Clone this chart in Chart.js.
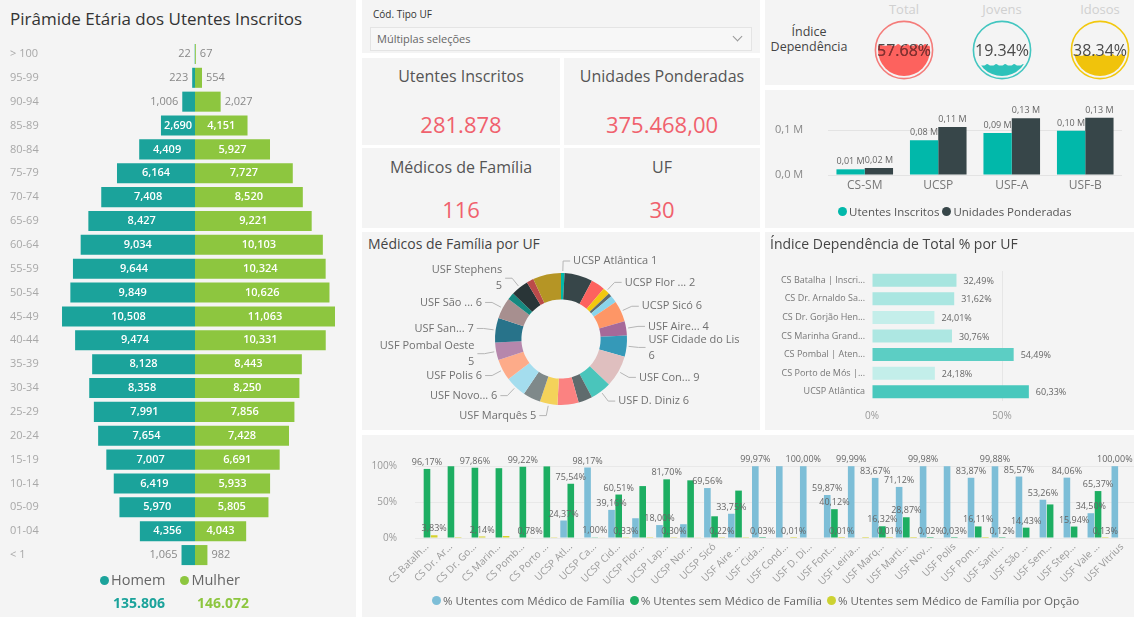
<!DOCTYPE html>
<html lang="pt">
<head>
<meta charset="utf-8">
<title>Utentes Inscritos</title>
<script src="https://cdn.jsdelivr.net/npm/chart.js@4.4.1/dist/chart.umd.min.js"></script>
<style>
html,body{margin:0;padding:0}
body{width:1134px;height:617px;overflow:hidden;background:#fff;position:relative;font-family:'Open Sans',sans-serif;color:#444}
.panel{position:absolute;background:#f4f4f4;overflow:hidden}
.panel canvas{position:absolute;left:0;top:0}
.t{position:absolute;white-space:nowrap;line-height:1}
.cap{position:absolute;left:0;right:0;text-align:center;font-size:16px;color:#555;line-height:1}
.val{position:absolute;left:0;right:0;text-align:center;font-size:22px;color:#F0616D;line-height:1}
.dot{display:inline-block;width:9px;height:9px;border-radius:50%;margin-right:2px}
.leg{position:absolute;white-space:nowrap;line-height:1;display:flex;align-items:center}
.leg span.item{display:flex;align-items:center;margin-right:5px}
</style>
</head>
<body>

<!-- age pyramid -->
<div class="panel" style="left:0;top:0;width:356px;height:617px">
  <div class="t" style="left:10px;top:10px;font-size:17px;color:#333">Pirâmide Etária dos Utentes Inscritos</div>
  <canvas id="pyramid" width="356" height="617"></canvas>
  <div class="leg" style="left:100px;top:573px;font-size:14.5px;color:#666">
    <span class="item"><span class="dot" style="background:#1BA39B"></span>Homem</span>
    <span class="item" style="margin-left:10px"><span class="dot" style="background:#8DC63F"></span>Mulher</span>
  </div>
  <div class="t" id="totHomem" style="left:113px;top:596px;font-size:14px;font-weight:700;color:#1BA39B"></div>
  <div class="t" id="totMulher" style="left:197px;top:596px;font-size:14px;font-weight:700;color:#8DC63F"></div>
</div>

<!-- slicer -->
<div class="panel" style="left:362px;top:0;width:398px;height:53px">
  <div class="t" style="left:11px;top:9px;font-size:10px;color:#333">Cód. Tipo UF</div>
  <div style="position:absolute;left:8px;top:27px;width:380px;height:22px;border:1px solid #e4e4e4;background:#f7f7f7">
    <div class="t" style="left:6px;top:5px;font-size:11px;color:#666">Múltiplas seleções</div>
    <div style="position:absolute;right:10px;top:5px;width:6px;height:6px;border-right:1px solid #999;border-bottom:1px solid #999;transform:rotate(45deg)"></div>
  </div>
</div>

<!-- KPI cards -->
<div class="panel" style="left:362px;top:58px;width:198px;height:87px">
  <div class="cap" style="top:10px">Utentes Inscritos</div>
  <div class="val" id="kpiUtentes" style="top:55px"></div>
</div>
<div class="panel" style="left:564px;top:58px;width:196px;height:87px">
  <div class="cap" style="top:10px">Unidades Ponderadas</div>
  <div class="val" id="kpiPonderadas" style="top:55px"></div>
</div>
<div class="panel" style="left:362px;top:148px;width:198px;height:80px">
  <div class="cap" style="top:11px">Médicos de Família</div>
  <div class="val" id="kpiMedicos" style="top:50px"></div>
</div>
<div class="panel" style="left:564px;top:148px;width:196px;height:80px">
  <div class="cap" style="top:11px">UF</div>
  <div class="val" id="kpiUF" style="top:50px"></div>
</div>

<!-- dependency gauges -->
<div class="panel" id="gaugePanel" style="left:765px;top:0;width:369px;height:85px">
  <div class="t" style="left:0;width:88px;top:24px;text-align:center;font-size:12.5px;line-height:15px;color:#444;white-space:normal">Índice<br>Dependência</div>
</div>

<!-- users by unit type -->
<div class="panel" style="left:765px;top:90px;width:369px;height:138px">
  <canvas id="byType" width="369" height="138"></canvas>
  <div class="leg" style="left:73px;top:116px;font-size:11.5px;color:#555">
    <span class="item" style="margin-right:3px"><span class="dot" style="background:#01B8AA"></span>Utentes Inscritos</span>
    <span class="item"><span class="dot" style="background:#374649"></span>Unidades Ponderadas</span>
  </div>
</div>

<!-- doctors per unit -->
<div class="panel" style="left:362px;top:232px;width:398px;height:198px">
  <div class="t" style="left:6px;top:5px;font-size:14px;color:#444">Médicos de Família por UF</div>
  <canvas id="doctors" width="398" height="198"></canvas>
</div>

<!-- dependency index per unit -->
<div class="panel" style="left:765px;top:232px;width:369px;height:198px">
  <div class="t" style="left:5px;top:5px;font-size:14px;color:#444">Índice Dependência de Total % por UF</div>
  <canvas id="depByUnit" width="369" height="198"></canvas>
</div>

<!-- coverage per unit -->
<div class="panel" style="left:362px;top:435px;width:772px;height:182px">
  <canvas id="coverage" width="772" height="182"></canvas>
  <div class="leg" style="left:70px;top:160px;font-size:11.6px;color:#666">
    <span class="item"><span class="dot" style="background:#7DBED7"></span>% Utentes com Médico de Família</span>
    <span class="item"><span class="dot" style="background:#1DAE62"></span>% Utentes sem Médico de Família</span>
    <span class="item"><span class="dot" style="background:#CDD232"></span>% Utentes sem Médico de Família por Opção</span>
  </div>
</div>

<script>
// ---------- data ----------
const ageGroups = ['> 100','95-99','90-94','85-89','80-84','75-79','70-74','65-69','60-64','55-59','50-54',
                   '45-49','40-44','35-39','30-34','25-29','20-24','15-19','10-14','05-09','01-04','< 1'];
const homem  = [22,223,1006,2690,4409,6164,7408,8427,9034,9644,9849,10508,9474,8128,8358,7991,7654,7007,6419,5970,4356,1065];
const mulher = [67,554,2027,4151,5927,7727,8520,9221,10103,10324,10626,11063,10331,8443,8250,7856,7428,6691,5933,5805,4043,982];

const unidadesPonderadas = 375468;

const dependencyNames  = ['Total','Jovens','Idosos'];
const dependencyValues = [57.68, 19.34, 38.34];

const ufTypes          = ['CS-SM','UCSP','USF-A','USF-B'];
const utentesByType    = [0.0126, 0.0775, 0.0935, 0.0983];   // milhões
const ponderadasByType = [0.0155, 0.1065, 0.1262, 0.1273];   // milhões
const typeTicks        = [0, 0.1];

const doctorUnits  = ['UCSP Atlântica','UCSP Ca...','UCSP Cid...','UCSP Flor ...','UCSP Lap...','UCSP Nor...','UCSP Sicó',
                      'USF Aire...','USF Cidade do Lis','USF Con...','USF D. Diniz','USF Font...','USF Leiria...','USF Marquês',
                      'USF Marti...','USF Novo...','USF Polis','USF Pombal Oeste','USF San...','USF São ...','USF Sem...',
                      'USF Stephens','USF Vale ...','USF Vitrius'];
const doctorCounts = [1,8,4,2,1,2,6,4,6,9,6,4,6,5,5,6,6,5,7,6,2,5,2,8];
const doctorUnlabelled = [1,2,4,5,11,12,14,20,22,23];
const doctorWrapped    = [8,17,21];

const depUnits = ['CS Batalha | Inscri...','CS Dr. Arnaldo Sa...','CS Dr. Gorjão Hen...','CS Marinha Grand...',
                  'CS Pombal | Aten...','CS Porto de Mós |...','UCSP Atlântica'];
const depTotal = [32.49, 31.62, 24.01, 30.76, 54.49, 24.18, 60.33];
const depTicks = [0, 50];

const ufNames = ['CS Batalh...','CS Dr. Ar...','CS Dr. Go...','CS Marin...','CS Pomb...','CS Porto ...','UCSP Atl...',
                 'UCSP Ca...','UCSP Cid...','UCSP Flor...','UCSP Lap...','UCSP Nor...','UCSP Sicó','USF Aire ...',
                 'USF Cida...','USF Cond...','USF D. Di...','USF Font...','USF Leiria...','USF Marq...','USF Marti...',
                 'USF Nov...','USF Polis','USF Pom...','USF Santi...','USF São ...','USF Sem...','USF Step...',
                 'USF Vale ...','USF Vitrius'];
const pctCom = [null,null,null,null,null,null,24.37,98.17,39.16,27.50,18.00,19.20,69.56,33.75,99.97,99.99,100.00,
                59.87,99.99,83.67,71.12,99.98,99.97,83.87,99.88,85.57,53.26,84.06,34.50,100.00];
const pctSem = [96.17,99.90,97.86,97.20,99.22,99.70,75.54,1.00,60.51,72.30,81.70,80.30,30.22,66.00,0.03,null,null,
                40.12,null,16.32,28.87,0.02,0.03,16.11,0.12,14.43,46.74,15.94,65.37,null];
const pctOpc = [3.83,0.10,2.14,2.80,0.78,0.30,null,0.83,0.33,0.20,0.30,0.50,0.22,0.25,null,0.01,null,
                0.01,0.01,0.01,0.01,null,null,0.02,null,null,null,null,0.13,null];
const pctTicks = [0, 50, 100];
const comLabelled = [6,7,8,10,12,13,14,16,17,18,19,20,21,23,24,25,26,27,28,29];
const semLabelled = [0,2,4,6,7,8,10,14,17,19,20,21,22,23,24,25,27,28];
const opcLabelled = [0,2,4,8,10,12,15,17,19,28];

// ---------- colours ----------
const HOMEM = '#1BA39B', MULHER = '#8DC63F';
const palette = ['#01B8AA','#374649','#FD625E','#F2C80F','#5F6B6D','#8AD4EB','#FE9666','#A66999','#3599B8','#DFBFBF',
                 '#4AC5BB','#5F6B6D','#FB8281','#F4D25A','#7F898A','#A4DDEE','#FDAB89','#B687AC','#28738A','#A78F8F',
                 '#168980','#293537','#BB4A4A','#B59525'];
const gaugeStyle = [
  {fill:'#FD625E', ring:'#F47C7A', ink:'#8E2B2B'},
  {fill:'#2EC2BA', ring:'#43C6C0', ink:'#0C5D58'},
  {fill:'#F0C30C', ring:'#F2C80F', ink:'#6A5500'}
];
const FONT = "'Open Sans', sans-serif";

Chart.defaults.font.family = FONT;
Chart.defaults.animation = false;
Chart.defaults.responsive = false;
Chart.defaults.events = [];
Chart.defaults.plugins.legend.display = false;
Chart.defaults.plugins.tooltip.enabled = false;

const sum = a => a.reduce((s, v) => s + (v || 0), 0);
const fmtPt = v => v.toLocaleString('de-DE');
const fmtPct = v => v.toFixed(2).replace('.', ',') + '%';
const fixedTicks = list => s => { s.ticks = list.map(v => ({value: v})); };

// ---------- KPI cards ----------
const totalHomem = sum(homem), totalMulher = sum(mulher);
document.getElementById('totHomem').textContent = fmtPt(totalHomem);
document.getElementById('totMulher').textContent = fmtPt(totalMulher);
document.getElementById('kpiUtentes').textContent = fmtPt(totalHomem + totalMulher);
document.getElementById('kpiPonderadas').textContent =
  unidadesPonderadas.toLocaleString('de-DE', {minimumFractionDigits:2, maximumFractionDigits:2});
document.getElementById('kpiMedicos').textContent = sum(doctorCounts);
document.getElementById('kpiUF').textContent = ufNames.length;

// ---------- age pyramid ----------
const pyramidLabels = {
  id: 'pyramidLabels',
  afterDatasetsDraw(chart) {
    const ctx = chart.ctx;
    ctx.save();
    ctx.textBaseline = 'middle';
    chart.data.datasets.forEach((ds, di) => {
      chart.getDatasetMeta(di).data.forEach((bar, i) => {
        const txt = Math.abs(ds.data[i]).toLocaleString('en-US');
        const w = Math.abs(bar.x - bar.base);
        ctx.font = `600 11px ${FONT}`;
        const tw = ctx.measureText(txt).width;
        if (tw + 4 <= w) {
          ctx.fillStyle = '#fff';
          ctx.textAlign = 'center';
          ctx.fillText(txt, (bar.x + bar.base) / 2, bar.y);
        } else {
          ctx.font = `11px ${FONT}`;
          ctx.fillStyle = '#888';
          const left = bar.x < bar.base;
          ctx.textAlign = left ? 'right' : 'left';
          ctx.fillText(txt, bar.x + (left ? -4 : 4), bar.y);
        }
      });
    });
    ctx.restore();
  }
};

new Chart(document.getElementById('pyramid'), {
  type: 'bar',
  data: {
    labels: ageGroups,
    datasets: [
      {label: 'Homem', data: homem.map(v => -v), backgroundColor: HOMEM},
      {label: 'Mulher', data: mulher, backgroundColor: MULHER}
    ]
  },
  options: {
    indexAxis: 'y',
    layout: {padding: {left: 10, right: 18, top: 42, bottom: 50}},
    datasets: {bar: {barPercentage: 0.84, categoryPercentage: 1}},
    scales: {
      x: {display: false, stacked: true, min: -11300, max: 11300},
      y: {stacked: true, grid: {display: false, drawTicks: false}, border: {display: false},
          ticks: {crossAlign: 'far', color: '#a8a8a8', font: {size: 11}, padding: 0},
          afterFit(s) { s.width = 42; }}
    }
  },
  plugins: [pyramidLabels]
});

// ---------- liquid gauges ----------
const liquid = {
  id: 'liquid',
  beforeDatasetsDraw(chart) {
    const a = chart.chartArea, ctx = chart.ctx;
    ctx.save();
    ctx.beginPath();
    ctx.arc((a.left + a.right) / 2, (a.top + a.bottom) / 2, (a.right - a.left) / 2, 0, Math.PI * 2);
    ctx.clip();
  },
  afterDatasetsDraw(chart) {
    const a = chart.chartArea, ctx = chart.ctx;
    const st = chart.options.plugins.liquid;
    const bar = chart.getDatasetMeta(0).data[0];
    const cx = (a.left + a.right) / 2, cy = (a.top + a.bottom) / 2, r = (a.right - a.left) / 2;
    // wave crest on top of the liquid
    ctx.beginPath();
    ctx.moveTo(a.left, bar.y + 1);
    for (let x = a.left; x <= a.right; x += 1) {
      ctx.lineTo(x, bar.y - 1.6 * Math.sin((x - a.left) / 9 * Math.PI * 2) - 0.4);
    }
    ctx.lineTo(a.right, bar.y + 2);
    ctx.closePath();
    ctx.fillStyle = st.fill;
    ctx.fill();
    ctx.restore();

    const txt = chart.data.datasets[0].data[0].toFixed(2) + '%';
    ctx.save();
    ctx.font = `16px ${FONT}`;
    ctx.textAlign = 'center';
    ctx.textBaseline = 'middle';
    ctx.fillStyle = '#4a4a4a';
    ctx.fillText(txt, cx, cy + 1);
    ctx.beginPath();
    ctx.arc(cx, cy, r, 0, Math.PI * 2);
    ctx.clip();
    ctx.beginPath();
    ctx.rect(a.left, bar.y, a.right - a.left, a.bottom - bar.y);
    ctx.clip();
    ctx.fillStyle = st.ink;
    ctx.fillText(txt, cx, cy + 1);
    ctx.restore();

    ctx.save();
    ctx.beginPath();
    ctx.arc(cx, cy, r + 2.6, 0, Math.PI * 2);
    ctx.lineWidth = 1.6;
    ctx.strokeStyle = st.ring;
    ctx.stroke();
    ctx.restore();
  }
};

const gaugePanel = document.getElementById('gaugePanel');
const gaugeCentres = [139, 237, 335];
dependencyValues.forEach((v, i) => {
  const title = document.createElement('div');
  title.className = 't';
  title.style.cssText = `left:${gaugeCentres[i] - 40}px;width:80px;text-align:center;top:3px;font-size:13px;color:#d0d0d0`;
  title.textContent = dependencyNames[i];
  gaugePanel.appendChild(title);
  const cv = document.createElement('canvas');
  cv.width = 64; cv.height = 64;
  cv.style.left = (gaugeCentres[i] - 32) + 'px';
  cv.style.top = '18px';
  gaugePanel.appendChild(cv);
  new Chart(cv, {
    type: 'bar',
    data: {labels: [dependencyNames[i]], datasets: [{data: [v], backgroundColor: gaugeStyle[i].fill,
           barPercentage: 1, categoryPercentage: 1, borderWidth: 0}]},
    options: {
      layout: {padding: 6},
      scales: {x: {display: false}, y: {display: false, min: 0, max: 100}},
      plugins: {liquid: gaugeStyle[i]}
    },
    plugins: [liquid]
  });
});

// ---------- users by unit type ----------
const fmtM = v => v.toFixed(2).replace('.', ',') + ' M';
const typeLabels = {
  id: 'typeLabels',
  afterDatasetsDraw(chart) {
    const ctx = chart.ctx;
    ctx.save();
    ctx.font = `9px ${FONT}`;
    ctx.fillStyle = '#666';
    ctx.textAlign = 'center';
    ctx.textBaseline = 'bottom';
    chart.data.datasets.forEach((ds, di) => {
      chart.getDatasetMeta(di).data.forEach((bar, i) => ctx.fillText(fmtM(ds.data[i]), bar.x, bar.y - 3));
    });
    ctx.restore();
  }
};

new Chart(document.getElementById('byType'), {
  type: 'bar',
  data: {
    labels: ufTypes,
    datasets: [
      {label: 'Utentes Inscritos', data: utentesByType, backgroundColor: '#01B8AA'},
      {label: 'Unidades Ponderadas', data: ponderadasByType, backgroundColor: '#374649'}
    ]
  },
  options: {
    layout: {padding: {left: 10, right: 12, top: 13, bottom: 23}},
    datasets: {bar: {barPercentage: 1, categoryPercentage: 0.77}},
    scales: {
      x: {grid: {display: false, drawTicks: false}, border: {display: false},
          ticks: {color: '#777', font: {size: 12}, padding: 3}, afterFit(s) { s.height = 30; }},
      y: {min: 0, max: 0.16, afterBuildTicks: fixedTicks(typeTicks),
          ticks: {crossAlign: 'far', color: '#888', font: {size: 11}, padding: 0,
                  callback: v => v.toFixed(1).replace('.', ',') + ' M'},
          grid: {color: '#e3e3e3', drawTicks: false}, border: {display: false},
          afterFit(s) { s.width = 53; }}
    }
  },
  plugins: [typeLabels]
});

// ---------- doctors per unit (donut) ----------
const donutLeaders = {
  id: 'donutLeaders',
  afterDatasetsDraw(chart) {
    const ctx = chart.ctx;
    const ds = chart.data.datasets[0];
    ctx.save();
    ctx.font = `11px ${FONT}`;
    ctx.textBaseline = 'middle';
    chart.getDatasetMeta(0).data.forEach((arc, i) => {
      if (doctorUnlabelled.includes(i)) return;
      const p = arc.getProps(['x', 'y', 'startAngle', 'endAngle', 'outerRadius'], true);
      const a = (p.startAngle + p.endAngle) / 2;
      const c = Math.cos(a), s = Math.sin(a);
      const right = c >= 0;
      const x1 = p.x + c * (p.outerRadius + 2), y1 = p.y + s * (p.outerRadius + 2);
      const x2 = p.x + c * (p.outerRadius + 12), y2 = p.y + s * (p.outerRadius + 12);
      const x3 = x2 + (right ? 7 : -7);
      ctx.strokeStyle = '#b5b5b5';
      ctx.lineWidth = 1;
      ctx.beginPath();
      ctx.moveTo(x1, y1); ctx.lineTo(x2, y2); ctx.lineTo(x3, y2);
      ctx.stroke();
      const name = chart.data.labels[i], val = String(ds.data[i]);
      const lines = doctorWrapped.includes(i) ? [name, val] : [name + ' ' + val];
      ctx.fillStyle = '#707070';
      ctx.textAlign = right ? 'left' : 'right';
      const tx = x3 + (right ? 3 : -3);
      const lh = 16;
      lines.forEach((ln, k) => ctx.fillText(ln, tx, y2 + (k - (lines.length - 1) / 2) * lh));
    });
    ctx.restore();
  }
};

new Chart(document.getElementById('doctors'), {
  type: 'doughnut',
  data: {labels: doctorUnits, datasets: [{data: doctorCounts, backgroundColor: palette, borderWidth: 0}]},
  options: {cutout: '60%', layout: {padding: {left: 133, right: 133, top: 41, bottom: 25}}},
  plugins: [donutLeaders]
});

// ---------- dependency index per unit ----------
const depMin = Math.min(...depTotal), depMax = Math.max(...depTotal);
const depShade = v => {
  const t = (v - depMin) / (depMax - depMin);
  const lo = [196, 238, 234], hi = [72, 200, 189];
  const c = lo.map((l, k) => Math.round(l + (hi[k] - l) * t));
  return `rgb(${c[0]},${c[1]},${c[2]})`;
};
const depLabels = {
  id: 'depLabels',
  afterDatasetsDraw(chart) {
    const ctx = chart.ctx, ds = chart.data.datasets[0];
    ctx.save();
    ctx.font = `9px ${FONT}`;
    ctx.fillStyle = '#666';
    ctx.textAlign = 'left';
    ctx.textBaseline = 'middle';
    chart.getDatasetMeta(0).data.forEach((bar, i) => ctx.fillText(fmtPct(ds.data[i]), bar.x + 7, bar.y + 1));
    ctx.restore();
  }
};

new Chart(document.getElementById('depByUnit'), {
  type: 'bar',
  data: {labels: depUnits, datasets: [{data: depTotal, backgroundColor: depTotal.map(depShade)}]},
  options: {
    indexAxis: 'y',
    layout: {padding: {left: 0, right: 80, top: 39, bottom: 0}},
    datasets: {bar: {barPercentage: 0.7, categoryPercentage: 1}},
    scales: {
      x: {min: 0, max: 70, afterBuildTicks: fixedTicks(depTicks),
          ticks: {color: '#999', font: {size: 10}, padding: 9, callback: v => v + '%'},
          grid: {color: c => (c.tick && c.tick.value === 50) ? '#e6e6e6' : 'rgba(0,0,0,0)', drawTicks: false},
          border: {display: false}, afterFit(s) { s.height = 29; }},
      y: {grid: {display: false, drawTicks: false}, border: {display: false},
          ticks: {color: '#777', font: {size: 9}, padding: 7}, afterFit(s) { s.width = 107; }}
    }
  },
  plugins: [depLabels]
});

// ---------- coverage per unit ----------
const coverageLabels = {
  id: 'coverageLabels',
  afterDatasetsDraw(chart) {
    const ctx = chart.ctx;
    const shown = [comLabelled, semLabelled, opcLabelled];
    ctx.save();
    ctx.font = `9px ${FONT}`;
    ctx.fillStyle = '#666';
    ctx.textAlign = 'center';
    ctx.textBaseline = 'bottom';
    chart.data.datasets.forEach((ds, di) => {
      const meta = chart.getDatasetMeta(di);
      shown[di].forEach(i => {
        const v = ds.data[i];
        if (v == null) return;
        const bar = meta.data[i];
        ctx.fillText(fmtPct(v), bar.x, bar.y - 2);
      });
    });
    ctx.restore();
  }
};

new Chart(document.getElementById('coverage'), {
  type: 'bar',
  data: {
    labels: ufNames,
    datasets: [
      {label: '% Utentes com Médico de Família', data: pctCom, backgroundColor: '#7DBED7'},
      {label: '% Utentes sem Médico de Família', data: pctSem, backgroundColor: '#1DAE62'},
      {label: '% Utentes sem Médico de Família por Opção', data: pctOpc, backgroundColor: '#D6D22C'}
    ]
  },
  options: {
    layout: {padding: {left: 0, right: 0, top: 24, bottom: 0}},
    datasets: {bar: {barPercentage: 0.92, categoryPercentage: 0.9}},
    scales: {
      x: {grid: {display: false, drawTicks: false}, border: {display: false},
          ticks: {autoSkip: false, minRotation: 45, maxRotation: 45, color: '#999', font: {size: 10}, padding: 3},
          afterFit(s) { s.height = 79; }},
      y: {min: 0, max: 110, afterBuildTicks: fixedTicks(pctTicks),
          ticks: {color: '#999', font: {size: 10}, padding: 18, callback: v => v + '%'},
          grid: {color: '#e8e8e8', drawTicks: false}, border: {display: false},
          afterFit(s) { s.width = 53; }}
    }
  },
  plugins: [coverageLabels]
});
</script>
</body>
</html>
